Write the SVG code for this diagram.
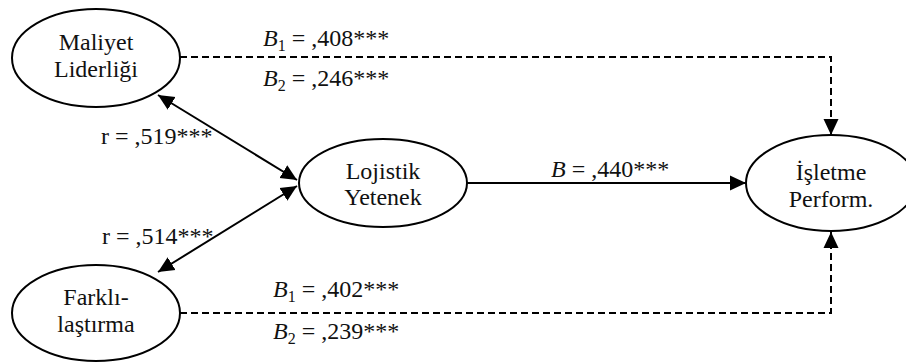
<svg xmlns="http://www.w3.org/2000/svg" width="906" height="362" viewBox="0 0 906 362">
  <style>
    .node ellipse { fill: #ffffff; stroke: #000000; stroke-width: 2; }
    .lbl { font-family: "Liberation Serif", "Times New Roman", serif; font-size: 24px; fill: #111111; text-anchor: middle; }
    .coef { font-family: "Liberation Serif", "Times New Roman", serif; font-size: 24px; fill: #111111; }
    .coef .v { font-style: italic; }
    .coef .sub { font-size: 16px; }
    .solid { fill: none; stroke: #000000; stroke-width: 2; }
    .dash { fill: none; stroke: #000000; stroke-width: 2; stroke-dasharray: 7 4; }
  </style>
  <defs>
    <marker id="head" viewBox="0 0 16 16" refX="16" refY="8" markerWidth="16" markerHeight="16" markerUnits="userSpaceOnUse" orient="auto-start-reverse">
      <path d="M0,0.5 L16,8 L0,15.5 Z" fill="#000000"/>
    </marker>
  </defs>

  <rect width="906" height="362" fill="#ffffff"/>

  <!-- connectors -->
  <g id="connectors">
    <path class="dash" d="M180,57 H831 V135" marker-end="url(#head)"/>
    <path class="dash" d="M180,313 H831 V232" marker-end="url(#head)"/>
    <path class="solid" d="M467,183 H746" marker-end="url(#head)"/>
    <path class="solid" d="M158,95 L297,180" marker-start="url(#head)" marker-end="url(#head)"/>
    <path class="solid" d="M158,272 L297,186" marker-start="url(#head)" marker-end="url(#head)"/>

    <text class="coef" x="263" y="46"><tspan class="v">B</tspan><tspan class="sub" dy="5">1</tspan><tspan dy="-5"> = ,408***</tspan></text>
    <text class="coef" x="263" y="86"><tspan class="v">B</tspan><tspan class="sub" dy="5">2</tspan><tspan dy="-5"> = ,246***</tspan></text>
    <text class="coef" x="551" y="177"><tspan class="v">B</tspan> = ,440***</text>
    <text class="coef" x="101" y="144">r = ,519***</text>
    <text class="coef" x="102" y="244">r = ,514***</text>
    <text class="coef" x="273" y="297"><tspan class="v">B</tspan><tspan class="sub" dy="5">1</tspan><tspan dy="-5"> = ,402***</tspan></text>
    <text class="coef" x="273" y="339"><tspan class="v">B</tspan><tspan class="sub" dy="5">2</tspan><tspan dy="-5"> = ,239***</tspan></text>
  </g>

  <!-- nodes -->
  <g id="maliyet" class="node">
    <ellipse cx="96" cy="58" rx="84" ry="49"/>
    <text class="lbl" x="96" y="50">Maliyet</text>
    <text class="lbl" x="96" y="77">Liderliği</text>
  </g>
  <g id="farklilastirma" class="node">
    <ellipse cx="96" cy="313" rx="84" ry="48"/>
    <text class="lbl" x="96" y="305">Farklı-</text>
    <text class="lbl" x="96" y="332">laştırma</text>
  </g>
  <g id="lojistik" class="node">
    <ellipse cx="383" cy="183" rx="84" ry="44"/>
    <text class="lbl" x="383" y="179">Lojistik</text>
    <text class="lbl" x="383" y="205">Yetenek</text>
  </g>
  <g id="isletme" class="node">
    <ellipse cx="831" cy="183" rx="85" ry="48"/>
    <text class="lbl" x="831" y="180">İşletme</text>
    <text class="lbl" x="831" y="207">Perform.</text>
  </g>
</svg>
